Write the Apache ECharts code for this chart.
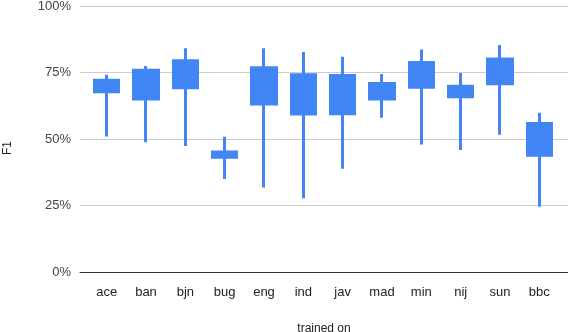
<!DOCTYPE html>
<html>
<head>
<meta charset="utf-8">
<script src="https://cdn.jsdelivr.net/npm/echarts@6/dist/echarts.min.js"></script>
<style>html,body{margin:0;padding:0;background:#fff}#c{width:568px;height:332px}</style>
</head>
<body>
<div id="c"></div>
<script>
const categories = ['ace','ban','bjn','bug','eng','ind','jav','mad','min','nij','sun','bbc'];
const boxLow  = [0.678,0.650,0.693,0.431,0.632,0.594,0.595,0.650,0.695,0.659,0.708,0.439];
const boxHigh = [0.721,0.758,0.794,0.451,0.768,0.742,0.739,0.709,0.788,0.698,0.801,0.558];
const minVals = [0.509,0.488,0.474,0.350,0.318,0.277,0.388,0.580,0.479,0.459,0.516,0.245];
const maxVals = [0.742,0.774,0.841,0.508,0.841,0.827,0.809,0.744,0.836,0.748,0.853,0.599];
const yTicks = [0, 0.25, 0.5, 0.75, 1];

const data = categories.map((c, i) => [boxLow[i], boxHigh[i], minVals[i], maxVals[i]]);
const font = 'Arial, "Liberation Sans", sans-serif';
const chart = echarts.init(document.getElementById('c'));
chart.setOption({
  animation: false,
  grid: [
    {left: 80, right: 0, top: 6, bottom: 60, containLabel: false, outerBoundsMode: 'none'},
    {left: 87, right: 9, top: 6, bottom: 60, containLabel: false, outerBoundsMode: 'none'}
  ],
  xAxis: [
    {type: 'category', gridIndex: 0, data: categories, axisLine: {lineStyle: {color: '#333', width: 1}},
     axisTick: {show: false}, axisLabel: {show: false},
     name: 'trained on', nameLocation: 'middle', nameGap: 51,
     nameTextStyle: {fontFamily: font, fontSize: 12, color: '#222'}},
    {type: 'category', gridIndex: 1, data: categories, axisLine: {show: false}, axisTick: {show: false},
     axisLabel: {fontFamily: font, fontSize: 13, color: '#222', margin: 14}}
  ],
  yAxis: [
    {type: 'value', gridIndex: 0, min: yTicks[0], max: yTicks[yTicks.length - 1], interval: 0.25,
     axisLine: {show: false}, axisTick: {show: false},
     axisLabel: {fontFamily: font, fontSize: 13, color: '#444', margin: 9,
       formatter: v => Math.round(v * 100) + '%'},
     splitLine: {lineStyle: {color: '#cccccc', width: 1}},
     name: 'F1', nameLocation: 'middle', nameGap: 66, nameRotate: 90,
     nameTextStyle: {fontFamily: font, fontSize: 12, color: '#222', padding: [0, 18, 0, 0]}},
    {type: 'value', gridIndex: 1, min: 0, max: 1, show: false, splitLine: {show: false}}
  ],
  series: [{
    type: 'candlestick', xAxisIndex: 1, yAxisIndex: 1, data: data,
    barWidth: 25,
    itemStyle: {color: '#4285f4', color0: '#4285f4', borderColor: '#4285f4', borderColor0: '#4285f4', borderWidth: 3}
  }]
});
</script>
</body>
</html>
